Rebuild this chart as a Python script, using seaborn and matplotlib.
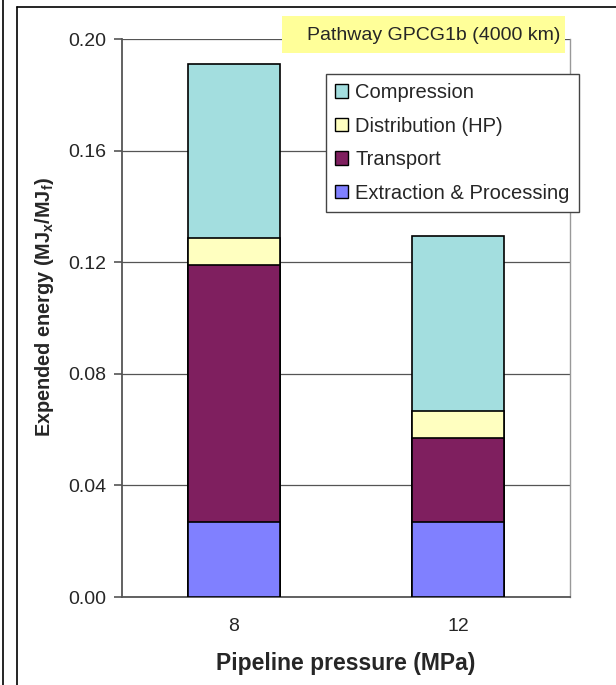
import numpy as np
import pandas as pd
import matplotlib
matplotlib.use('Agg')
import matplotlib.pyplot as plt
from matplotlib.lines import Line2D
from matplotlib.patches import Patch, Rectangle
import seaborn as sns

# ========== data ==========
pressures = ['8', '12']
extraction = [0.027, 0.027]
transport = [0.092, 0.030]
distribution = [0.0095, 0.0095]
compression = [0.0625, 0.0629]

series = ['Extraction & Processing', 'Transport', 'Distribution (HP)', 'Compression']
colors = ['#8080FF', '#7F1F5F', '#FFFFC0', '#A3DEDF']

df = pd.DataFrame({'pressure': pressures,
                   'Extraction & Processing': extraction,
                   'Transport': transport,
                   'Distribution (HP)': distribution,
                   'Compression': compression})
cum = df[series].cumsum(axis=1)
cum['pressure'] = df['pressure']

sns.set_style('white')
plt.rcParams['font.family'] = ['Liberation Sans', 'DejaVu Sans']
plt.rcParams['mathtext.fontset'] = 'custom'
plt.rcParams['mathtext.bf'] = 'Liberation Sans:bold'
plt.rcParams['mathtext.rm'] = 'Liberation Sans'

fig = plt.figure(figsize=(6.16, 6.85), dpi=100)
ax = fig.add_axes([122/616, 1-597/685, 448/616, 558/685])

# stacked: draw cumulative totals from top segment down
for name, col in zip(series[::-1], colors[::-1]):
    sns.barplot(data=cum, x='pressure', y=name, order=pressures, color=col,
                width=0.41, edgecolor='black', linewidth=1.2, ax=ax,
                saturation=1, zorder=3)

ax.set_xlim(-0.5, 1.5)
ax.set_ylim(0, 0.20)
ax.set_yticks(np.arange(0, 0.201, 0.04))
ax.set_yticklabels([f'{v:.2f}' for v in np.arange(0, 0.201, 0.04)])
ax.yaxis.grid(True, color='#555555', linewidth=0.9, zorder=0)
ax.set_axisbelow(True)
ax.set_xticks([-0.5, 0.5, 1.5], minor=True)
ax.tick_params(axis='x', which='major', length=0, labelsize=14, pad=15)
ax.tick_params(axis='x', which='minor', length=6, color='#555555', width=1.2, direction='out')
ax.tick_params(axis='y', length=6, color='#555555', width=1.2, direction='out', labelsize=14, pad=5)
ax.tick_params(left=True, bottom=True)
for s in ['left', 'bottom']:
    ax.spines[s].set_color('#555555')
    ax.spines[s].set_linewidth(1.3)
ax.spines['right'].set_color('#999999')
ax.spines['right'].set_linewidth(1.0)
ax.spines['top'].set_visible(False)

ax.set_xlabel('Pipeline pressure (MPa)', fontsize=16.5, fontweight='bold')
ax.set_ylabel('Expended energy (MJ$_\\mathbf{x}$/MJ$_\\mathbf{f}$)', fontsize=14.3,
              fontweight='bold')
ax.yaxis.set_label_coords(-(122-56)/448, 0.52)
ax.xaxis.set_label_coords(0.5, -(652-597)/558)

handles = [Patch(facecolor=c, edgecolor='black', label=n)
           for n, c in zip(series[::-1], colors[::-1])]
leg = ax.legend(handles=handles, loc='upper left', bbox_to_anchor=(204/448, 1-35/558),
                fontsize=14.5, frameon=True, fancybox=False, edgecolor='#444444',
                framealpha=1, handlelength=0.65, handleheight=0.65, handletextpad=0.35,
                labelspacing=0.72, borderpad=0.45, borderaxespad=0)
leg.get_frame().set_linewidth(1.0)
leg.set_zorder(5)

# title box
fig.add_artist(Rectangle((282/616, 1-53/685), 283/616, 37/685, transform=fig.transFigure,
                         facecolor='#FFFF99', edgecolor='none', zorder=6))
fig.text(434/616, 1-35/685, 'Pathway GPCG1b (4000 km)', fontsize=14,
         ha='center', va='center', zorder=7)

# outer frame lines
fig.add_artist(Line2D([3/616, 3/616], [0, 1], color='black', lw=1.2))
fig.add_artist(Line2D([17/616, 17/616], [0, 1-7/685], color='black', lw=1.2))
fig.add_artist(Line2D([17/616, 1], [1-7/685, 1-7/685], color='black', lw=1.2))

fig.savefig('out.png', dpi=100)
